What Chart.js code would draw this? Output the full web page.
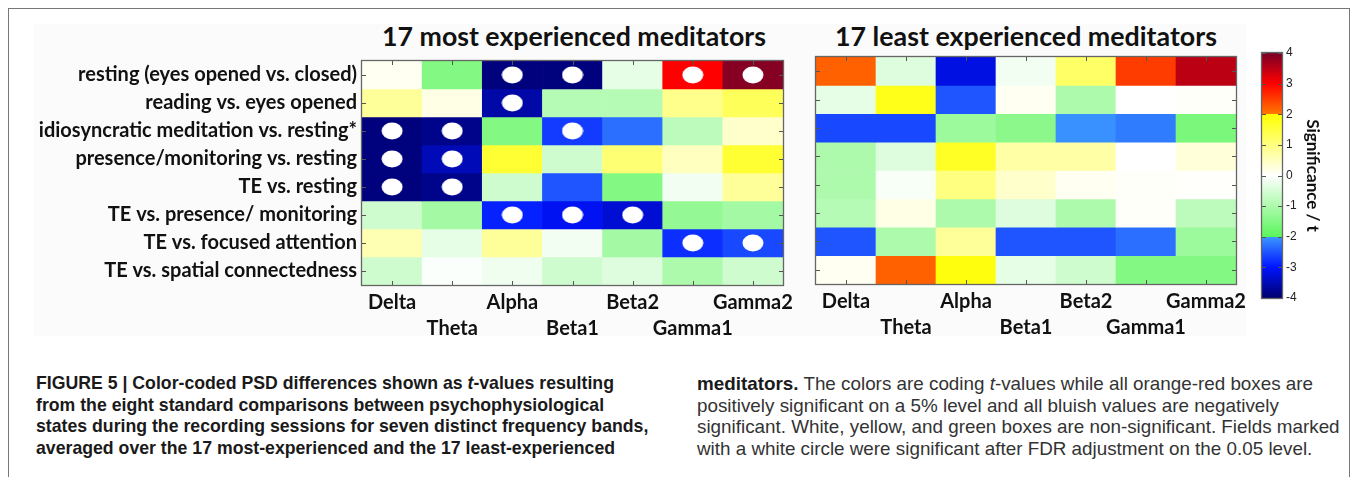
<!DOCTYPE html>
<html>
<head>
<meta charset="utf-8">
<script src="https://cdn.jsdelivr.net/npm/chart.js@4.4.0/dist/chart.umd.min.js"></script>
<style>
  body { margin: 0; width: 1355px; height: 477px; background: #fff; position: relative; overflow: hidden; }
  #frame { position: absolute; left: 8px; top: 8px; width: 1342px; height: 480px; border: 1.5px solid #777; border-bottom: none; box-sizing: border-box; }
  #panel { position: absolute; left: 34px; top: 24px; width: 1212px; height: 312px; background: #fbfbfb; }
  .title { position: absolute; top: 20px; font-family: Lato, sans-serif; font-weight: bold; font-size: 23px; color: #111; white-space: nowrap; }
  canvas { position: absolute; }
  .cap { position: absolute; font-family: "Liberation Sans", Arial, sans-serif; font-size: 15.5px; line-height: 21.5px; white-space: nowrap; color: #1a1a1a; }
  .cap div { white-space: nowrap; }
  #capL { left: 36px; top: 373px; font-weight: bold; }
  #capR { left: 697px; top: 373px; color: #333; }
  #capR b { color: #1a1a1a; }
</style>
</head>
<body>
<div id="frame"></div>
<div id="panel"></div>
<div class="title" id="titleL">17 most experienced meditators</div>
<div class="title" id="titleR">17 least experienced meditators</div>
<canvas id="most" width="780" height="301" style="left:20px; top:50px"></canvas>
<canvas id="least" width="450" height="300" style="left:800px; top:50px"></canvas>
<canvas id="cbar" width="83" height="275" style="left:1240px; top:40px"></canvas>
<div class="cap" id="capL">
  <div>FIGURE 5 | Color-coded PSD differences shown as <i>t</i>-values resulting</div>
  <div>from the eight standard comparisons between psychophysiological</div>
  <div>states during the recording sessions for seven distinct frequency bands,</div>
  <div>averaged over the 17 most-experienced and the 17 least-experienced</div>
</div>
<div class="cap" id="capR">
  <div><b>meditators.</b> The colors are coding <i>t</i>-values while all orange-red boxes are</div>
  <div>positively significant on a 5% level and all bluish values are negatively</div>
  <div>significant. White, yellow, and green boxes are non-significant. Fields marked</div>
  <div>with a white circle were significant after FDR adjustment on the 0.05 level.</div>
</div>
<script>
// data
const bands = ['Delta', 'Theta', 'Alpha', 'Beta1', 'Beta2', 'Gamma1', 'Gamma2'];
const comparisons = [
  'resting (eyes opened vs. closed)',
  'reading vs. eyes opened',
  'idiosyncratic meditation vs. resting*',
  'presence/monitoring vs. resting',
  'TE vs. resting',
  'TE vs. presence/ monitoring',
  'TE vs. focused attention',
  'TE vs. spatial connectedness'
];
// t-values, one row per comparison, one column per band
const tMost = [
  [0.1, -1.5, -3.9, -3.9, -0.3, 3.0, 3.9],
  [0.8, 0.2, -3.6, -0.9, -0.9, 0.9, 1.3],
  [-3.9, -3.8, -1.5, -2.7, -2.3, -0.8, 0.4],
  [-3.9, -3.5, 1.6, -0.6, 1.1, 0.5, 1.6],
  [-3.9, -3.8, -0.6, -2.5, -1.5, -0.15, 0.8],
  [-0.6, -1.1, -2.9, -3.1, -3.3, -1.3, -1.1],
  [0.6, -0.3, 0.8, -0.15, -1.1, -2.8, -2.6],
  [-0.6, -0.05, -0.2, -0.6, -0.4, -1.0, -0.6]
];
const tLeast = [
  [2.2, -0.4, -3.2, -0.15, 1.2, 2.5, 3.5],
  [-0.3, 1.8, -2.5, 0.1, -1.0, 0.0, 0.05],
  [-2.6, -2.6, -1.2, -1.4, -2.05, -2.2, -1.6],
  [-1.0, -0.4, 1.7, 0.7, 0.7, 0.0, 0.3],
  [-1.0, -0.1, 1.0, 0.4, 0.1, 0.05, 0.02],
  [-0.9, 0.2, -1.0, -0.4, -1.0, 0.05, -0.8],
  [-2.5, -1.0, 0.8, -2.5, -2.5, -2.3, -1.2],
  [0.1, 2.2, 1.9, -0.3, -0.6, -1.5, -1.5]
];
// [row, band] cells significant after FDR
const sigMost = [[0, 2], [0, 3], [0, 5], [0, 6], [1, 2], [2, 0], [2, 1], [2, 3], [3, 0], [3, 1], [4, 0], [4, 1], [5, 2], [5, 3], [5, 4], [6, 5], [6, 6]];
const sigLeast = [];
const cbarTicks = [-4, -3, -2, -1, 0, 1, 2, 3, 4];

// colour map (t, rgb), jumps at -2 and +2
const cmap = [
  [-4, [0, 0, 110]],
  [-3, [0, 20, 255]],
  [-2, [60, 150, 255]],
  [-2, [90, 245, 90]],
  [0, [255, 255, 255]],
  [2, [255, 255, 0]],
  [2, [255, 120, 0]],
  [3, [255, 0, 0]],
  [4, [120, 0, 40]]
];

function tColor(t) {
  t = Math.max(-4, Math.min(4, t));
  for (let i = 0; i < cmap.length - 1; i++) {
    const [a, ca] = cmap[i];
    const [b, cb] = cmap[i + 1];
    if (b > a && t >= a && t <= b) {
      const f = (t - a) / (b - a);
      const c = ca.map((v, k) => Math.round(v + (cb[k] - v) * f));
      return 'rgb(' + c.join(',') + ')';
    }
  }
  return '#fff';
}

// white ellipse marker
const dot = document.createElement('canvas');
dot.width = 22;
dot.height = 18;
const dctx = dot.getContext('2d');
dctx.fillStyle = '#fff';
dctx.beginPath();
dctx.ellipse(11, 9, 10.5, 8.5, 0, 0, Math.PI * 2);
dctx.fill();

const labelFont = { family: 'Lato', weight: 'bold', size: 20, lineHeight: 1.3 };

// border + inward tick marks, matlab style
const frameTicks = {
  id: 'frameTicks',
  afterDatasetsDraw(chart, args, opts) {
    const { ctx, chartArea: a, scales } = chart;
    ctx.save();
    ctx.strokeStyle = '#555';
    ctx.lineWidth = 1;
    ctx.beginPath();
    (opts.xs || []).forEach(v => {
      const x = Math.round(scales.x.getPixelForValue(v)) + 0.5;
      ctx.moveTo(x, a.top); ctx.lineTo(x, a.top + 4);
      ctx.moveTo(x, a.bottom); ctx.lineTo(x, a.bottom - 4);
    });
    (opts.ys || []).forEach(v => {
      const y = Math.round(scales.y.getPixelForValue(v)) + 0.5;
      ctx.moveTo(a.left, y); ctx.lineTo(a.left + 4, y);
      ctx.moveTo(a.right, y); ctx.lineTo(a.right - 4, y);
    });
    ctx.stroke();
    ctx.lineWidth = 1.3;
    ctx.strokeStyle = '#666';
    ctx.strokeRect(a.left - 0.5, a.top - 0.5, a.right - a.left + 1, a.bottom - a.top + 1);
    ctx.restore();
  }
};

function makeHeatmap(id, tvals, sig, showNames, pad) {
  const rows = comparisons.map((name, r) => ({
    type: 'bar',
    label: name,
    data: bands.map(() => [r, r + 1]),
    backgroundColor: tvals[r].map(tColor),
    borderWidth: 0,
    barPercentage: 1,
    categoryPercentage: 1,
    grouped: false
  }));
  const dots = {
    type: 'line',
    label: 'FDR significant',
    order: -1,
    showLine: false,
    data: sig.map(([r, c]) => ({ x: bands[c], y: r + 0.5 })),
    pointStyle: dot,
    pointRadius: 10,
    pointHoverRadius: 10
  };
  return new Chart(document.getElementById(id), {
    type: 'bar',
    data: { labels: bands, datasets: [dots].concat(rows) },
    options: {
      responsive: false,
      animation: false,
      layout: { padding: pad },
      plugins: {
        legend: { display: false },
        tooltip: { enabled: false },
        frameTicks: { xs: bands.map((b, i) => i), ys: comparisons.map((c, i) => i + 0.5) }
      },
      scales: {
        x: {
          type: 'category',
          offset: true,
          grid: { display: false, drawTicks: false },
          border: { display: false },
          ticks: {
            font: labelFont,
            color: '#111',
            padding: 5,
            maxRotation: 0,
            autoSkip: false,
            callback: (v, i) => i % 2 ? ['', bands[i]] : bands[i]
          },
          afterFit: s => { s.height = 66; s.paddingLeft = 0; s.paddingRight = 0; }
        },
        y: {
          type: 'linear',
          reverse: true,
          min: 0,
          max: 8,
          display: showNames,
          grid: { display: false, drawTicks: false },
          border: { display: false },
          afterBuildTicks: s => { s.ticks = comparisons.map((c, i) => ({ value: i + 0.5 })); },
          ticks: {
            font: labelFont,
            color: '#111',
            padding: 5,
            callback: (v, i) => comparisons[i]
          },
          afterFit: s => {
            s.width = showNames ? 342 : 0;
            s.paddingTop = 0;
            s.paddingBottom = 0;
          }
        }
      }
    },
    plugins: [frameTicks]
  });
}

makeHeatmap('most', tMost, sigMost, true, { top: 7, right: 17, left: 0, bottom: 0 });
makeHeatmap('least', tLeast, sigLeast, false, { top: 7, right: 14, left: 16, bottom: 0 });

// colour bar
const gradientFill = {
  id: 'gradientFill',
  beforeDatasetsDraw(chart) {
    const { ctx, chartArea: a } = chart;
    const g = ctx.createLinearGradient(0, a.bottom, 0, a.top);
    cmap.forEach(([t, c]) => g.addColorStop((t + 4) / 8, 'rgb(' + c.join(',') + ')'));
    ctx.save();
    ctx.fillStyle = g;
    ctx.fillRect(a.left, a.top, a.right - a.left, a.bottom - a.top);
    ctx.restore();
  }
};

new Chart(document.getElementById('cbar'), {
  type: 'bar',
  data: { labels: [''], datasets: [] },
  options: {
    responsive: false,
    animation: false,
    layout: { padding: { top: 13, bottom: 17, left: 22, right: 0 } },
    plugins: {
      legend: { display: false },
      tooltip: { enabled: false },
      frameTicks: { ys: cbarTicks }
    },
    scales: {
      x: { display: false },
      y: {
        type: 'linear',
        position: 'right',
        min: -4,
        max: 4,
        grid: { display: false, drawTicks: false },
        border: { display: false },
        afterBuildTicks: s => { s.ticks = cbarTicks.map(v => ({ value: v })); },
        ticks: {
          font: { family: 'Liberation Sans', size: 12 },
          color: '#222',
          padding: 4,
          callback: v => String(v)
        },
        title: {
          display: true,
          text: 'Significance / t',
          font: { family: 'Lato', weight: 'bold', size: 17 },
          color: '#111',
          padding: 0
        },
        afterFit: s => { s.width = 41; s.paddingTop = 0; s.paddingBottom = 0; }
      }
    }
  },
  plugins: [gradientFill, frameTicks]
});

// size titles and caption to the reference widths
function fitTo(el, w) {
  el.style.display = 'inline-block';
  const cur = el.getBoundingClientRect().width;
  const fs = parseFloat(getComputedStyle(el).fontSize);
  el.style.fontSize = (fs * w / cur).toFixed(2) + 'px';
}
function fitCaption(col, total) {
  const lines = Array.from(col.children);
  lines.forEach(l => { l.style.display = 'inline-block'; });
  const cur = lines.reduce((s, l) => s + l.getBoundingClientRect().width, 0);
  lines.forEach(l => { l.style.display = 'block'; });
  const fs = parseFloat(getComputedStyle(col).fontSize);
  col.style.fontSize = (fs * total / cur).toFixed(2) + 'px';
}
const tl = document.getElementById('titleL');
const tr = document.getElementById('titleR');
fitTo(tl, 384);
fitTo(tr, 382);
tl.style.left = (574 - tl.getBoundingClientRect().width / 2) + 'px';
tr.style.left = (1026 - tr.getBoundingClientRect().width / 2) + 'px';
// summed line widths
fitCaption(document.getElementById('capL'), 2338);
fitCaption(document.getElementById('capR'), 2456);
</script>
</body>
</html>
